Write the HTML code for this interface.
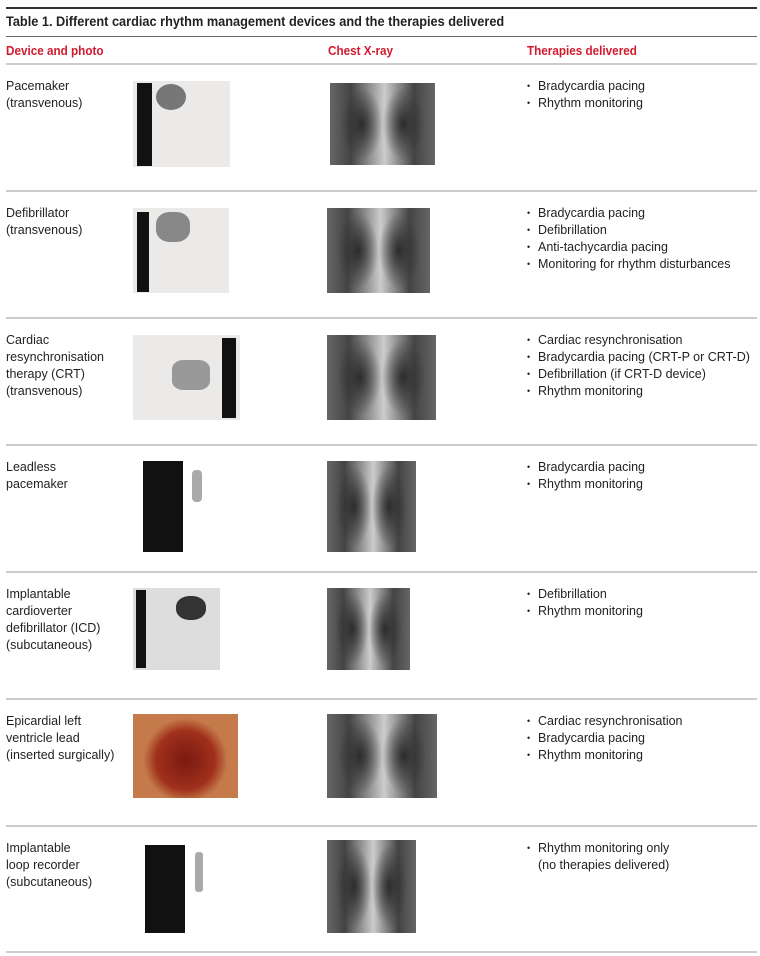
<!DOCTYPE html>
<html><head><meta charset="utf-8"><style>
body{margin:0;width:760px;height:956px;background:#fff;position:relative;font-family:"Liberation Sans Narrow","Liberation Sans",sans-serif;color:#222;overflow:hidden}
.a{position:absolute}
.hl{position:absolute;left:6px;width:751px}
.t{position:absolute;left:6px;font-size:12.5px;line-height:17px}
.b{position:absolute;left:527px;font-size:12.5px;line-height:17px}
.b div{padding-left:11px;position:relative}
.b div.d:before{content:"•";position:absolute;left:0;font-size:9px}
.h{position:absolute;top:43px;font-size:13px;font-weight:bold;color:#d11a2e;transform:scaleX(0.9);transform-origin:left}
.xr{position:absolute;background:radial-gradient(ellipse 20% 45% at 30% 50%,#2c2c2c,transparent),radial-gradient(ellipse 20% 45% at 70% 50%,#2c2c2c,transparent),linear-gradient(90deg,#666,#444 20%,#bbb 48%,#ccc 52%,#444 80%,#666);}
.ph{position:absolute;background:#eceae8}
.ru{position:absolute;background:#111}
</style></head><body>
<div class="hl" style="top:7px;height:2px;background:#333"></div>
<div class="a" style="left:6px;top:13px;font-size:14px;font-weight:bold;transform:scaleX(0.91);transform-origin:left;white-space:nowrap">Table 1. Different cardiac rhythm management devices and the therapies delivered</div>
<div class="hl" style="top:36px;height:1px;background:#666"></div>
<div class="h" style="left:6px">Device and photo</div>
<div class="h" style="left:328px">Chest X-ray</div>
<div class="h" style="left:527px">Therapies delivered</div>
<div class="hl" style="top:63px;height:2px;background:#ccc"></div>
<div class="hl" style="top:190px;height:2px;background:#ccc"></div>
<div class="hl" style="top:317px;height:2px;background:#ccc"></div>
<div class="hl" style="top:444px;height:2px;background:#ccc"></div>
<div class="hl" style="top:571px;height:2px;background:#ccc"></div>
<div class="hl" style="top:698px;height:2px;background:#ccc"></div>
<div class="hl" style="top:825px;height:2px;background:#ccc"></div>
<div class="hl" style="top:951px;height:2px;background:#ccc"></div>

<div class="t" style="top:78px">Pacemaker<br>(transvenous)</div>
<div class="ph" style="left:133px;top:81px;width:97px;height:86px"></div><div class="ru" style="left:137px;top:83px;width:15px;height:83px"></div><div class="a" style="left:156px;top:84px;width:30px;height:26px;border-radius:50%;background:#777"></div>
<div class="xr" style="left:330px;top:83px;width:105px;height:82px"></div>
<div class="b" style="top:78px"><div class="d">Bradycardia pacing</div><div class="d">Rhythm monitoring</div></div>

<div class="t" style="top:205px">Defibrillator<br>(transvenous)</div>
<div class="ph" style="left:133px;top:208px;width:96px;height:85px"></div><div class="ru" style="left:137px;top:212px;width:12px;height:80px"></div><div class="a" style="left:156px;top:212px;width:34px;height:30px;border-radius:40%;background:#888"></div>
<div class="xr" style="left:327px;top:208px;width:103px;height:85px"></div>
<div class="b" style="top:205px"><div class="d">Bradycardia pacing</div><div class="d">Defibrillation</div><div class="d">Anti-tachycardia pacing</div><div class="d">Monitoring for rhythm disturbances</div></div>

<div class="t" style="top:332px">Cardiac<br>resynchronisation<br>therapy (CRT)<br>(transvenous)</div>
<div class="ph" style="left:133px;top:335px;width:107px;height:85px"></div><div class="ru" style="left:222px;top:338px;width:14px;height:80px"></div><div class="a" style="left:172px;top:360px;width:38px;height:30px;border-radius:30%;background:#999"></div>
<div class="xr" style="left:327px;top:335px;width:109px;height:85px"></div>
<div class="b" style="top:332px"><div class="d">Cardiac resynchronisation</div><div class="d">Bradycardia pacing (CRT-P or CRT-D)</div><div class="d">Defibrillation (if CRT-D device)</div><div class="d">Rhythm monitoring</div></div>

<div class="t" style="top:459px">Leadless<br>pacemaker</div>
<div class="ru" style="left:143px;top:461px;width:40px;height:91px"></div><div class="a" style="left:192px;top:470px;width:10px;height:32px;background:#aaa;border-radius:4px"></div>
<div class="xr" style="left:327px;top:461px;width:89px;height:91px"></div>
<div class="b" style="top:459px"><div class="d">Bradycardia pacing</div><div class="d">Rhythm monitoring</div></div>

<div class="t" style="top:586px">Implantable<br>cardioverter<br>defibrillator (ICD)<br>(subcutaneous)</div>
<div class="ph" style="left:133px;top:588px;width:87px;height:82px;background:#ddd"></div><div class="ru" style="left:136px;top:590px;width:10px;height:78px"></div><div class="a" style="left:176px;top:596px;width:30px;height:24px;border-radius:45%;background:#333"></div>
<div class="xr" style="left:327px;top:588px;width:83px;height:82px"></div>
<div class="b" style="top:586px"><div class="d">Defibrillation</div><div class="d">Rhythm monitoring</div></div>

<div class="t" style="top:713px">Epicardial left<br>ventricle lead<br>(inserted surgically)</div>
<div class="a" style="left:133px;top:714px;width:105px;height:84px;background:radial-gradient(ellipse 40% 50% at 50% 55%,#7a1a12,#a0301c 70%,#c47a4a)"></div>
<div class="xr" style="left:327px;top:714px;width:110px;height:84px"></div>
<div class="b" style="top:713px"><div class="d">Cardiac resynchronisation</div><div class="d">Bradycardia pacing</div><div class="d">Rhythm monitoring</div></div>

<div class="t" style="top:840px">Implantable<br>loop recorder<br>(subcutaneous)</div>
<div class="ru" style="left:145px;top:845px;width:40px;height:88px"></div><div class="a" style="left:195px;top:852px;width:8px;height:40px;background:#aaa;border-radius:3px"></div>
<div class="xr" style="left:327px;top:840px;width:89px;height:93px"></div>
<div class="b" style="top:840px"><div class="d">Rhythm monitoring only</div><div>(no therapies delivered)</div></div>
</body></html>
